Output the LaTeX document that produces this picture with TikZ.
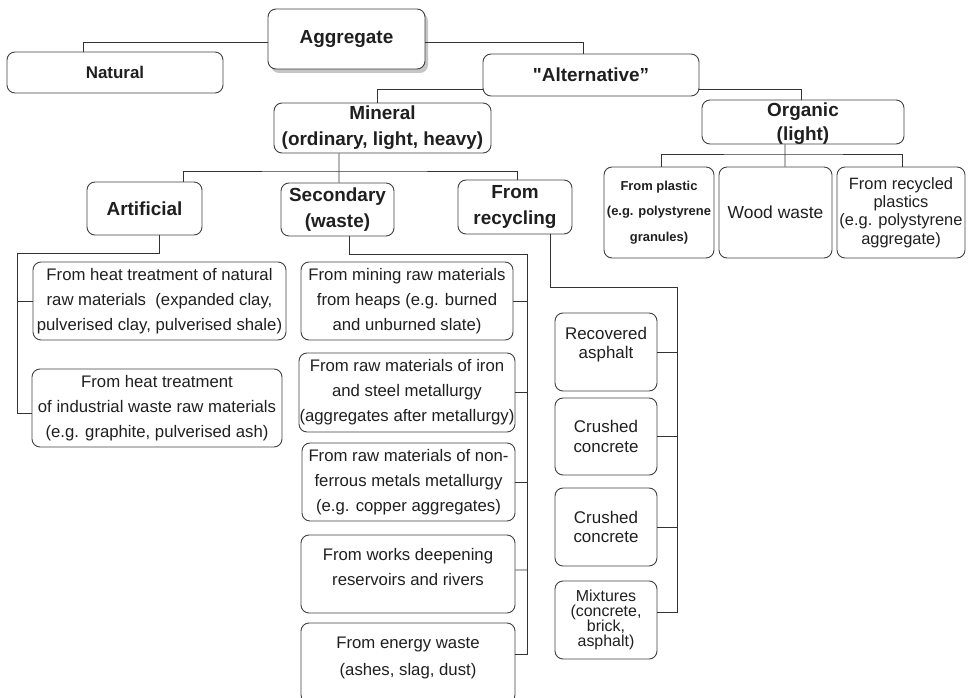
\documentclass[tikz,border=0pt]{standalone}
\usepackage{fontspec}
\setmainfont{Liberation Sans}
\usepackage{tikz}
\usetikzlibrary{shadows}
\newcommand{\straightq}{\XeTeXglyph\XeTeXglyphindex "quotedbl"\relax}

\begin{document}
\begin{tikzpicture}[x=1bp,y=-1bp,
    box/.style={draw=black!75, line width=0.9bp, rounded corners=8bp, inner sep=0pt, align=center, text=black!88},
    head/.style={box, font=\fontsize{19}{26}\selectfont\bfseries},
    desc/.style={box, font=\fontsize{16.8}{25}\selectfont, minimum width=214bp, minimum height=78bp},
    recy/.style={box, font=\fontsize{17}{19}\selectfont, minimum width=102bp, minimum height=78bp},
    link/.style={draw=black!80, line width=0.8bp},
  ]
  \useasboundingbox (0,0) rectangle (970,698);
  \clip (0,0) rectangle (970,698);

  \node[head, minimum width=157bp, minimum height=60bp, fill=white,
        drop shadow={shadow xshift=3bp, shadow yshift=-4bp, opacity=0.45}] (agg) at (346.5,39) {Aggregate};
  \node[head, font=\fontsize{17}{22}\selectfont\bfseries, minimum width=216bp, minimum height=41bp] (nat) at (115,72.5) {Natural};
  \node[head, minimum width=216bp, minimum height=42bp] (alt) at (591,75) {\straightq Alternative”};
  \node[head, minimum width=217bp, minimum height=50bp] (min) at (382.5,128) {Mineral\\(ordinary, light, heavy)};
  \node[head, font=\fontsize{19}{24}\selectfont\bfseries, minimum width=202bp, minimum height=44bp, text depth=-4bp] (org) at (803,122) {Organic\\(light)};

  \node[box, font=\fontsize{13}{25.5}\selectfont\bfseries, minimum width=110bp, minimum height=91bp] (pla) at (659,212.5) {From plastic\\(e.g. polystyrene\\granules)};
  \node[box, font=\fontsize{17.5}{20}\selectfont, minimum width=113bp, minimum height=91bp] (woo) at (775.5,212.5) {Wood waste};
  \node[box, font=\fontsize{16.5}{18.5}\selectfont, minimum width=128bp, minimum height=91bp] (rpl) at (901,212.5) {From recycled\\plastics\\(e.g. polystyrene\\aggregate)};

  \node[head, minimum width=115bp, minimum height=53bp] (art) at (144.5,208.5) {Artificial};
  \node[head, minimum width=113bp, minimum height=53bp] (sec) at (337.5,209.5) {Secondary\\(waste)};
  \node[head, minimum width=114bp, minimum height=54bp] (rec) at (515,207) {From\\recycling};

  \node[desc, minimum width=253bp] (a1) at (159.5,301) {From heat treatment of natural\\raw materials\ \ (expanded clay,\\pulverised clay, pulverised shale)};
  \node[desc, minimum width=250bp] (a2) at (157,408) {From heat treatment\\of industrial waste raw materials\\(e.g. graphite, pulverised ash)};

  \node[desc, minimum width=212bp] (s1) at (407,301) {From mining raw materials\\from heaps (e.g. burned\\and unburned slate)};
  \node[desc, minimum width=216bp, minimum height=79bp] (s2) at (407,392.5) {From raw materials of iron\\and steel metallurgy\\(aggregates after metallurgy)};
  \node[desc, minimum width=213bp] (s3) at (408.5,482) {From raw materials of non-\\ferrous metals metallurgy\\(e.g. copper aggregates)};
  \node[desc, text depth=14bp] (s4) at (408,574) {From works deepening\\reservoirs and rivers};
  \node[desc, font=\fontsize{16.8}{28}\selectfont, minimum height=80bp, text depth=13.5bp] (s5) at (408,663) {From energy waste\\(ashes, slag, dust)};

  \node[recy, text depth=18bp] (r1) at (606,352) {Recovered\\asphalt};
  \node[recy, minimum height=77bp, font=\fontsize{17}{20}\selectfont] (r2) at (606,436.5) {Crushed\\concrete};
  \node[recy] (r3) at (606,527) {Crushed\\concrete};
  \node[recy, font=\fontsize{16}{15}\selectfont] (r4) at (606,620) {Mixtures\\(concrete,\\brick,\\asphalt)};

  \draw[link] ([yshift=-3bp]agg.west) -| ([xshift=-32bp]nat.north);
  \draw[link] ([yshift=-3bp]agg.east) -| ([xshift=-8bp]alt.north);
  \draw[link] ([yshift=-14bp]alt.west) -| ([xshift=-5.5bp]min.north);
  \draw[link] ([yshift=-14bp]alt.east) -| ([xshift=-2bp]org.north);

  \coordinate (orgbus) at (785,154);
  \draw[link] ([xshift=-18bp]org.south) -- (orgbus) -- (orgbus |- woo.north);
  \draw[link] ([xshift=2bp]pla.north) |- (orgbus) -| ([xshift=1bp]rpl.north);

  \coordinate (minbus) at (339,171);
  \draw[link] ([xshift=-43.5bp]min.south) -- (minbus) -- (minbus |- sec.north);
  \draw[link] ([xshift=38.5bp]art.north) |- (minbus) -| ([xshift=2bp]rec.north);

  \coordinate (artbus) at (17,253);
  \draw[link] ([xshift=14.5bp]art.south) |- (artbus) |- ([yshift=-5bp]a2.west);
  \draw[link] (artbus |- a1.west) -- (a1.west);

  \coordinate (secbus) at (527,254);
  \draw[link] ([xshift=11.5bp]sec.south) |- (secbus) |- ([yshift=9bp]s5.east);
  \foreach \n in {s1,s2,s3} \draw[link] (secbus |- \n.east) -- (\n.east);
  \draw[link] (secbus |- s4.east) ++(0,-4) -- ([yshift=4bp]s4.east);

  \coordinate (recbus) at (677,287);
  \draw[link] ([xshift=35bp]rec.south) |- (recbus) |- ([yshift=8bp]r4.east);
  \foreach \n in {r1,r2,r3} \draw[link] (recbus |- \n.east) -- (\n.east);
\end{tikzpicture}
\end{document}
